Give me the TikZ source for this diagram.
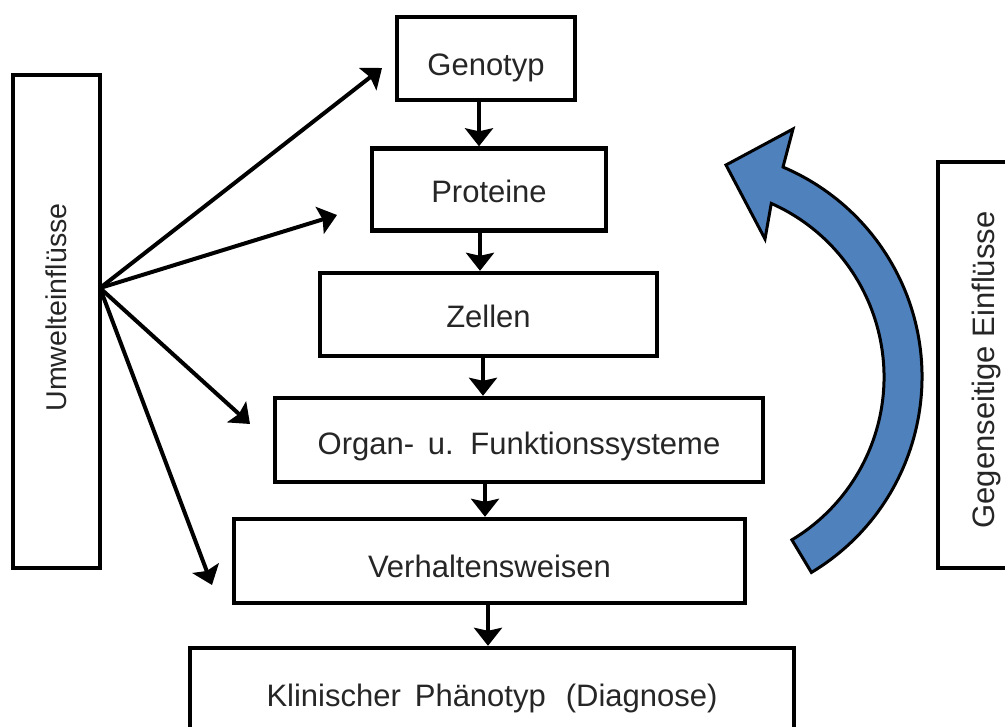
\documentclass[tikz,border=0pt]{standalone}
\usepackage{fontspec}
\setmainfont{Liberation Sans}
\usetikzlibrary{arrows.meta,calc}
\definecolor{arrowblue}{HTML}{4F81BD}
\definecolor{txt}{HTML}{262626}
\begin{document}
\begin{tikzpicture}[x=0.5pt,y=0.5pt,
  boxbase/.style={draw=black, line width=2.2pt, fill=white, inner sep=0pt, text=txt,
    font=\fontsize{15.5}{18}\selectfont},
  box/.style={boxbase, text height=14pt, text depth=0pt},
  arr/.style={line width=2pt, -{Stealth[length=9pt,width=14pt,inset=1.5pt]}},
  bigarrow/.style={draw=black, line width=1.5pt, fill=arrowblue, line join=miter},
]
\useasboundingbox (0,0) rectangle (1005,-727);

% main chain
\node[box, text height=16.6pt, minimum width=89pt,   minimum height=41.5pt] (geno)  at (486,-58.5)  {Genotyp};
\node[box, text height=12.9pt, minimum width=117pt,  minimum height=41pt]   (prot)  at (489,-189.5) {Proteine};
\node[box, text height=13.1pt, minimum width=168.5pt,minimum height=41.5pt] (zell)  at (488.5,-314.5) {Zellen};
\node[box, text height=14.6pt, minimum width=244pt,  minimum height=42pt]   (organ) at (519,-440)   {Organ-\, u.\, Funktionssysteme};
\node[box, text height=16.1pt, minimum width=255.5pt,minimum height=42pt]   (verh)  at (489.5,-561) {Verhaltensweisen};
\node[box, text height=12pt,   minimum width=302pt,  minimum height=46pt]   (klin)  at (492,-694)   {Klinischer\hspace{7pt}Phänotyp\hspace{10pt}(Diagnose)};

% side boxes
\node[boxbase, minimum width=43.5pt, minimum height=246.5pt] (umw) at (56.5,-321.5)
  {\rotatebox{90}{\fontsize{14.3}{17}\selectfont\hspace*{14pt}Umwelteinflüsse}};
\node[boxbase, minimum width=48pt, minimum height=203pt] (geg) at (986,-365)
  {\rotatebox{90}{Gegenseitige Einflüsse\hspace*{5pt}}};

% vertical connectors
\coordinate (c1) at (479,0);
\coordinate (c2) at (480,0);
\coordinate (c3) at (483,0);
\coordinate (c4) at (485,0);
\coordinate (c5) at (488,0);
\draw[arr] (geno.south -| c1) -- (prot.north -| c1);
\draw[arr] (prot.south -| c2) -- (zell.north -| c2);
\draw[arr] (zell.south -| c3) -- (organ.north -| c3);
\draw[arr] (organ.south -| c4) -- (verh.north -| c4);
\draw[arr] (verh.south -| c5) -- (klin.north -| c5);

% environmental influences
\coordinate (src) at (100,-288);
\coordinate (t1) at (382,-68);
\coordinate (t2) at (337,-215);
\coordinate (t3) at (250,-424);
\coordinate (t4) at (212,-585);
\draw[arr] (src) -- (t1);
\draw[arr] (src) -- (t2);
\draw[arr] (src) -- (t3);
\draw[arr] (src) -- (t4);

% curved blue arrow
\coordinate (ctr) at (694,-377);
\draw[bigarrow] (783,-167) -- (793,-129) -- (726,-165) -- (765,-239)
  -- ($(ctr)+(66:190)$) arc[start angle=66, end angle=-59, radius=190]
  -- ($(ctr)+(-59:228)$) arc[start angle=-59, end angle=67, radius=228]
  -- cycle;
\end{tikzpicture}
\end{document}
